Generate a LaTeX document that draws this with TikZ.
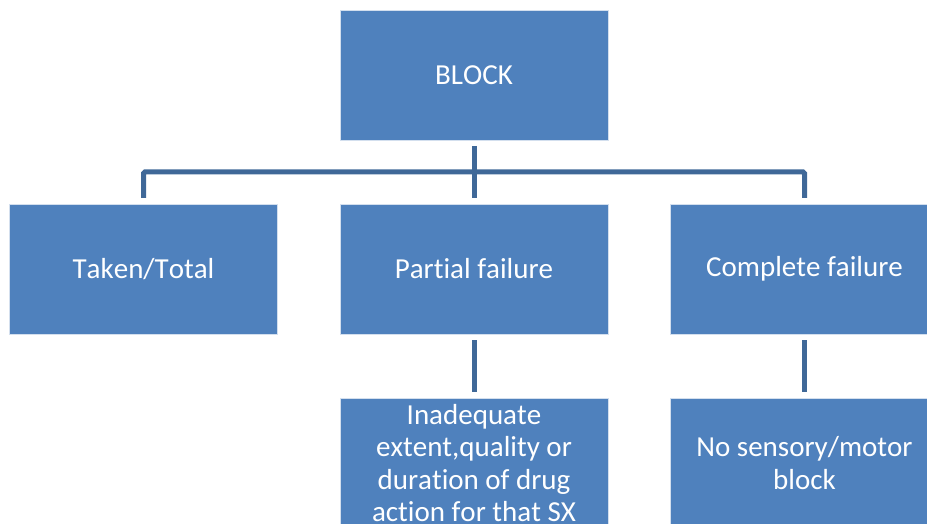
\documentclass[tikz,border=0pt]{standalone}
\usepackage{fontspec}
\setmainfont{Carlito}[Ligatures=NoCommon, Kerning=Off]
\definecolor{boxblue}{HTML}{4F81BD}
\definecolor{linkblue}{HTML}{3F6898}
\tikzset{
  blockbox/.style={rectangle, fill=boxblue, draw=white!75!boxblue, line width=0.8pt,
    minimum width=268pt, minimum height=130pt, inner sep=0pt, outer sep=6pt,
    text=white, align=center, font=\fontsize{29}{32.5}\selectfont},
  link/.style={linkblue, line width=5pt, rounded corners=1.5pt}
}
\begin{document}
\begin{tikzpicture}[x=1pt,y=-1pt]
\clip (0,0) rectangle (927,524);
\node[blockbox] (block) at (474,75) {BLOCK};
\node[blockbox] (taken) at (143.5,269) {Taken/Total};
\node[blockbox] (partial) at (474,269) {Partial failure};
\node[blockbox] (complete) at (804.5,269) {Complete failure};
\node[blockbox] (inadequate) at (474,463) {Inadequate\\extent,quality or\\duration of drug\\action for that SX};
\node[blockbox] (nomotor) at (804.5,463) {No sensory/motor\\block};
% links
\draw[link] (block.south) -- (partial.north);
\draw[link] (block.south) ++(0,26) coordinate (hub) -| (taken.north);
\draw[link] (hub) -| (complete.north);
\draw[link] (partial.south) -- (inadequate.north);
\draw[link] (complete.south) -- (nomotor.north);
\end{tikzpicture}
\end{document}
